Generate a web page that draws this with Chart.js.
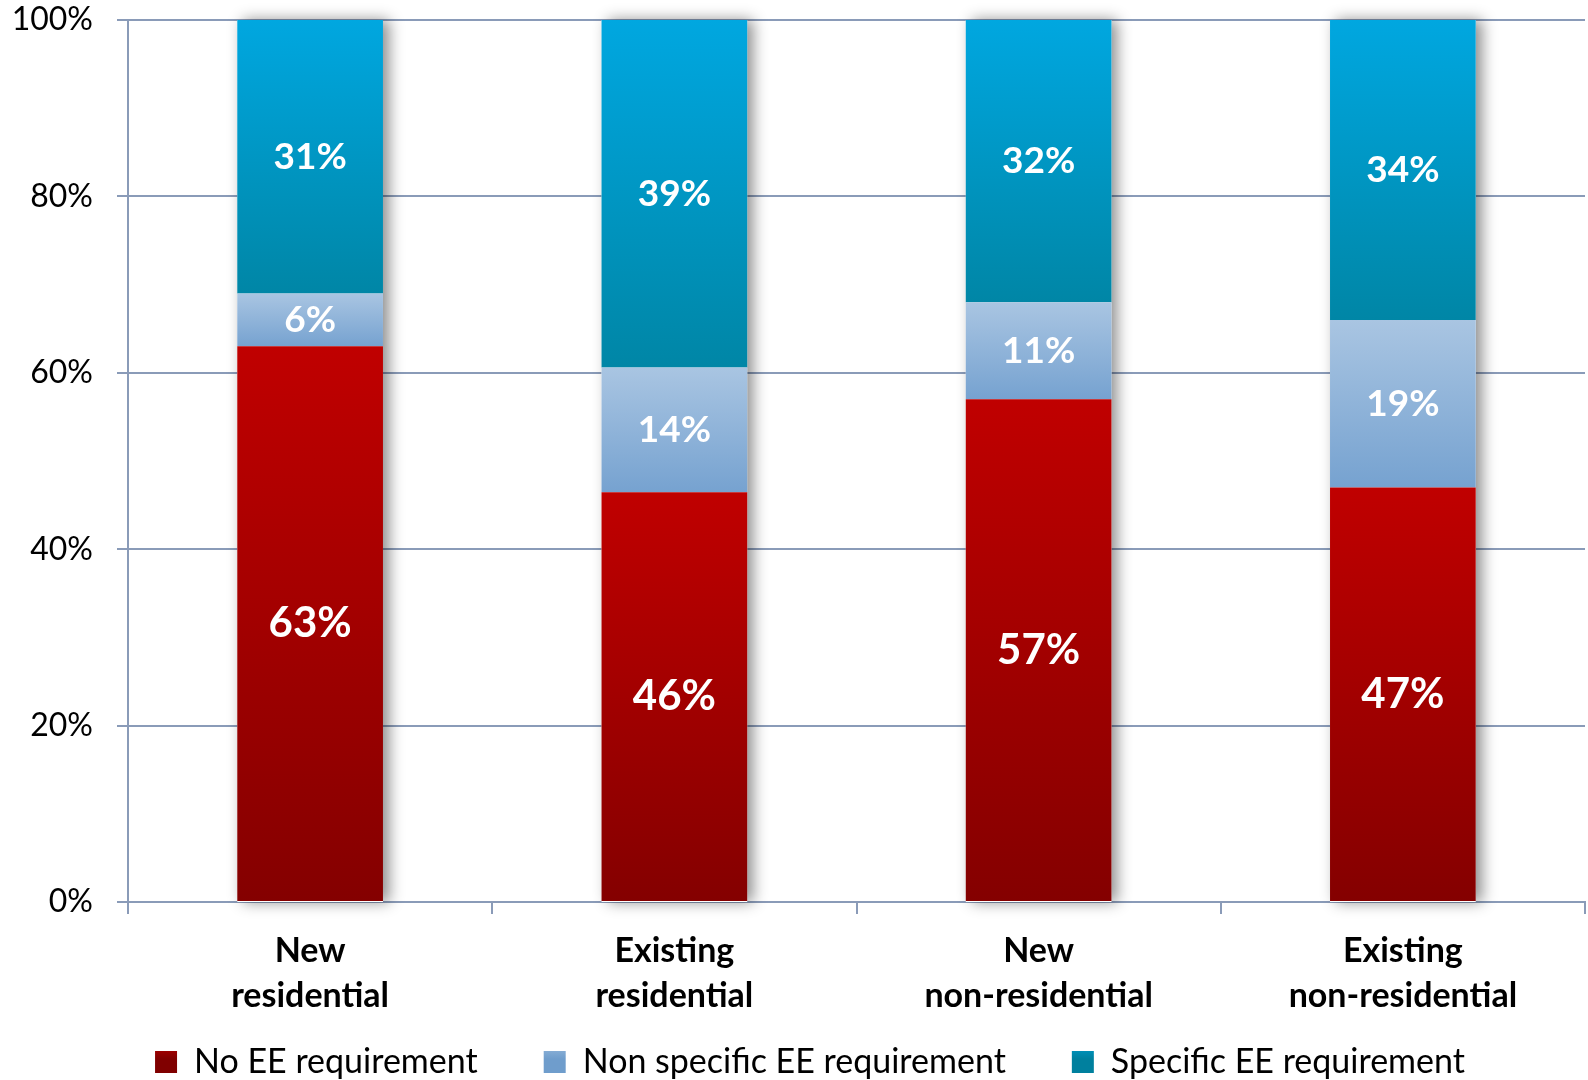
<!DOCTYPE html>
<html>
<head>
<meta charset="utf-8">
<script src="https://cdn.jsdelivr.net/npm/chart.js@4.4.1/dist/chart.umd.min.js"></script>
<style>
  html, body { margin: 0; padding: 0; background: #ffffff; overflow: hidden; }
  #wrap { width: 1588px; height: 1080px; position: relative; }
  canvas { display: block; }
</style>
</head>
<body>
<div id="wrap"><canvas id="c" width="1588" height="1080"></canvas></div>
<script>
const categories = [["New", "residential"], ["Existing", "residential"], ["New", "non-residential"], ["Existing", "non-residential"]];
const seriesNames = ["No EE requirement", "Non specific EE requirement", "Specific EE requirement"];
const noEE = [63, 46, 57, 47];
const nonSpecificEE = [6, 14, 11, 19];
const specificEE = [31, 39, 32, 34];
const yTicks = [0, 20, 40, 60, 80, 100];

const FONT = "Lato";
const raw = [noEE, nonSpecificEE, specificEE];
const totals = categories.map((_, i) => raw.reduce((s, a) => s + a[i], 0));
const pct = raw.map(a => a.map((v, i) => v / totals[i] * 100));

const gradStops = [
  ["#c00000", "#840000"],
  ["#a9c5e2", "#76a2d0"],
  ["#00a7e0", "#0086a6"]
];
const legendGrad = [
  ["#cc0000", "#800000"],
  ["#a9c5e2", "#6f9dcc"],
  ["#00a8e0", "#00809e"]
];

function segBounds(ds, i) {
  let start = 0;
  for (let d = 0; d < ds; d++) start += pct[d][i];
  return [start, start + pct[ds][i]];
}

function makeBg(dsIndex) {
  return function(ctx) {
    const chart = ctx.chart;
    const y = chart.scales.y;
    if (!chart.chartArea || !y || ctx.dataIndex === undefined) return gradStops[dsIndex][0];
    const [s, e] = segBounds(dsIndex, ctx.dataIndex);
    const top = y.getPixelForValue(e), bot = y.getPixelForValue(s);
    const g = chart.ctx.createLinearGradient(0, top, 0, bot);
    g.addColorStop(0, gradStops[dsIndex][0]);
    g.addColorStop(1, gradStops[dsIndex][1]);
    return g;
  };
}

const unclipPlugin = {
  id: 'unclipLabels',
  afterLayout(chart) {
    chart.scales.y.left = 0;
    chart.scales.x.bottom = chart.height;
  }
};

const shadowPlugin = {
  id: 'barShadow',
  beforeDatasetsDraw(chart) {
    const ctx = chart.ctx;
    const meta0 = chart.getDatasetMeta(0);
    const y = chart.scales.y;
    ctx.save();
    ctx.shadowColor = 'rgba(0,0,0,0.45)';
    ctx.shadowBlur = 14;
    ctx.shadowOffsetX = 6;
    ctx.shadowOffsetY = 0;
    ctx.fillStyle = '#ffffff';
    meta0.data.forEach((bar) => {
      const w = bar.width;
      const top = y.getPixelForValue(100), bot = y.getPixelForValue(0);
      ctx.fillRect(bar.x - w / 2, top, w, bot - top);
    });
    ctx.restore();
  }
};

const labelPlugin = {
  id: 'segLabels',
  afterDatasetsDraw(chart) {
    const ctx = chart.ctx;
    ctx.save();
    ctx.fillStyle = '#ffffff';
    ctx.textAlign = 'center';
    ctx.textBaseline = 'middle';
    chart.data.datasets.forEach((ds, d) => {
      const meta = chart.getDatasetMeta(d);
      meta.data.forEach((bar, i) => {
        const size = d === 0 ? 42 : 37;
        ctx.font = `bold ${size}px ${FONT}`;
        const cy = (bar.y + bar.base) / 2;
        ctx.fillText(raw[d][i] + '%', bar.x, cy);
      });
    });
    ctx.restore();
  }
};

const gridColor = '#8a9bb8';

new Chart(document.getElementById('c'), {
  type: 'bar',
  data: {
    labels: categories,
    datasets: seriesNames.map((name, d) => ({
      label: name,
      data: pct[d],
      backgroundColor: makeBg(d),
      borderWidth: 0,
      barPercentage: 0.8,
      categoryPercentage: 0.5
    }))
  },
  options: {
    responsive: false,
    animation: false,
    devicePixelRatio: 1,
    layout: { padding: { top: 20, right: 3, left: 35, bottom: -9 } },
    plugins: {
      tooltip: { enabled: false },
      legend: {
        position: 'bottom',
        labels: {
          font: { family: FONT, size: 34 },
          color: '#000000',
          boxWidth: 22,
          boxHeight: 22,
          padding: 66,
          generateLabels(chart) {
            return seriesNames.map((n, d) => {
              const g = chart.ctx.createLinearGradient(0, 1037, 0, 1059);
              g.addColorStop(0, legendGrad[d][0]);
              g.addColorStop(1, legendGrad[d][1]);
              return { text: n, fillStyle: g, strokeStyle: 'rgba(0,0,0,0)', lineWidth: 0, datasetIndex: d, fontColor: '#000' };
            });
          }
        }
      }
    },
    scales: {
      x: {
        stacked: true,
        grid: { drawOnChartArea: false, drawTicks: true, tickLength: 12, color: gridColor, lineWidth: 2, offset: true },
        border: { color: gridColor, width: 2 },
        ticks: { font: { family: FONT, size: 34, weight: 'bold', lineHeight: 1.32 }, color: '#000', padding: 15, maxRotation: 0 },
        afterFit(scale) { scale.height = 77; scale.paddingLeft = 0; scale.paddingRight = 0; }
      },
      y: {
        stacked: true,
        min: 0, max: 100,
        afterBuildTicks(scale) { scale.ticks = yTicks.map(v => ({ value: v })); },
        grid: { color: gridColor, lineWidth: 2, tickLength: 11 },
        border: { color: gridColor, width: 2 },
        ticks: { font: { family: FONT, size: 32 }, color: '#000', padding: 24, callback: v => v + '%' },
        afterFit(scale) { scale.width = 93; scale.paddingTop = 0; scale.paddingBottom = 0; }
      }
    }
  },
  plugins: [unclipPlugin, shadowPlugin, labelPlugin]
});
</script>
</body>
</html>
